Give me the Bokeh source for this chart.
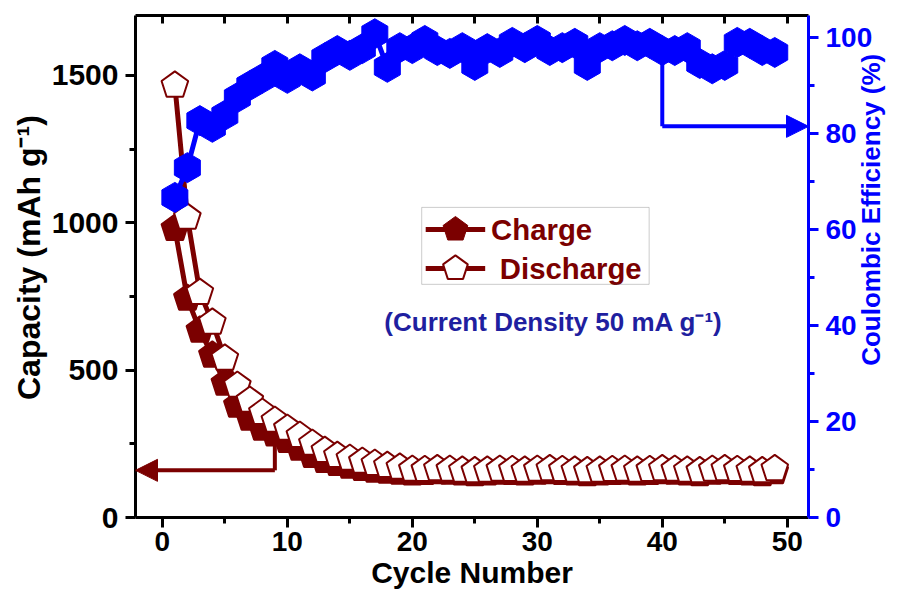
import numpy as np
from bokeh.plotting import figure
from bokeh.models import (Range1d, LinearAxis, FixedTicker, Arrow, NormalHead,
                          BoxAnnotation, ColumnDataSource)
from bokeh.core.properties import value
from bokeh.embed import file_html
from bokeh.resources import INLINE

# ---------------- data ----------------
cycles = list(range(1, 50))
charge = [980, 743, 635, 550, 455, 380, 336, 302, 283, 261,
          234, 210, 193, 183, 173, 166, 160, 156, 153, 150,
          152, 155, 153, 150, 148, 150, 153, 152, 150, 153,
          155, 152, 150, 148, 150, 152, 153, 150, 152, 155,
          153, 150, 148, 153, 155, 152, 150, 148, 155]
discharge = [1466, 1018, 763, 662, 540, 448, 397, 356, 329, 302,
             278, 251, 227, 210, 200, 190, 183, 176, 170, 163,
             162, 165, 163, 160, 158, 160, 163, 162, 160, 163,
             165, 162, 160, 158, 160, 162, 163, 160, 162, 165,
             163, 160, 158, 163, 165, 162, 160, 158, 165]
efficiency = [66.7, 72.9, 82.7, 81.3, 83.8, 87.5, 90.0, 91.5, 94.2, 91.5,
              93.5, 92.0, 95.8, 97.3, 96.3, 97.7, 100.8, 93.8, 97.9, 97.7,
              99.4, 97.3, 96.7, 97.9, 94.2, 97.7, 96.9, 99.0, 97.9, 99.4,
              97.3, 97.9, 98.8, 94.2, 97.9, 98.3, 99.4, 98.3, 98.8, 97.3,
              97.3, 97.9, 94.6, 93.5, 94.2, 99.0, 98.8, 97.3, 96.9]
x_ticks = [0, 10, 20, 30, 40, 50]
cap_ticks = [0, 500, 1000, 1500]
eff_ticks = [0, 20, 40, 60, 80, 100]

MAROON = "#7B0000"
BLUE = "#0000FF"
NAVY = "#1F1FA0"
FONT = "Liberation Sans"
NBSP = "\u00a0"

p = figure(width=904, height=595, output_backend="svg", toolbar_location=None,
           x_range=Range1d(-2.15, 51.7), y_range=Range1d(0, 1703),
           min_border_left=135, min_border_right=92, min_border_top=15,
           min_border_bottom=78)
p.extra_y_ranges = {"eff": Range1d(0, 104.6)}
p.outline_line_color = None
p.xgrid.visible = False
p.ygrid.visible = False


def style_axis(ax, color, label_size, tick_size):
    ax.axis_line_width = 3
    ax.axis_line_color = color
    ax.major_tick_line_width = 3
    ax.minor_tick_line_width = 3
    ax.major_tick_line_color = color
    ax.minor_tick_line_color = color
    ax.major_tick_out = 10
    ax.major_tick_in = 0
    ax.minor_tick_out = 6
    ax.minor_tick_in = 0
    ax.major_label_text_font = FONT
    ax.major_label_text_font_style = "bold"
    ax.major_label_text_font_size = tick_size
    ax.major_label_text_color = color
    ax.axis_label_text_font = FONT
    ax.axis_label_text_font_style = "bold"
    ax.axis_label_text_font_size = label_size
    ax.axis_label_text_color = color
    ax.major_label_standoff = 6
    ax.axis_label_standoff = 2


bx = p.xaxis[0]
bx.ticker = FixedTicker(ticks=x_ticks, minor_ticks=[t + 5 for t in x_ticks[:-1]])
bx.axis_label = "Cycle Number"
style_axis(bx, "black", "30px", "28px")
bx.major_label_standoff = 4

ly = p.yaxis[0]
ly.ticker = FixedTicker(ticks=cap_ticks, minor_ticks=[t + 250 for t in cap_ticks[:-1]])
ly.axis_label = NBSP * 2 + "Capacity (mAh g⁻¹)"
style_axis(ly, "black", "32px", "30px")
ly.major_label_standoff = 7

top = LinearAxis(ticker=FixedTicker(ticks=[t for t in range(0, 51, 5)], minor_ticks=[]))
top.axis_line_width = 3
top.major_tick_line_width = 3
top.major_tick_in = 8
top.major_tick_out = 0
top.minor_tick_line_color = None
top.major_label_text_color = None
top.major_label_text_font_size = "0px"
top.major_label_standoff = 0
p.add_layout(top, "above")

ry = LinearAxis(y_range_name="eff",
                ticker=FixedTicker(ticks=eff_ticks, minor_ticks=[t + 10 for t in eff_ticks[:-1]]),
                axis_label=NBSP * 21 + "Coulombic Efficiency (%)")
style_axis(ry, BLUE, "26px", "28px")
ry.major_label_standoff = 7
ry.axis_label_standoff = -4
rprops = ry.properties()
if "axis_label_orientation" in rprops:
    ry.axis_label_orientation = np.pi / 2
if "axis_label_align" in rprops:
    ry.axis_label_align = "start"
p.add_layout(ry, "right")

# ---------------- series ----------------
src = ColumnDataSource(dict(x=cycles, c=charge, d=discharge, e=efficiency))

p.line("x", "c", source=src, line_width=5, line_color=MAROON)
p.ngon(x="x", y="c", source=src, radius=14, radius_units="screen", n=5,
       angle=0, fill_color=MAROON, line_color=MAROON, line_width=2)
p.line("x", "d", source=src, line_width=5, line_color=MAROON)
p.ngon(x="x", y="d", source=src, radius=14, radius_units="screen", n=5,
       angle=0, fill_color="white", line_color=MAROON, line_width=2)

p.line("x", "e", source=src, y_range_name="eff", line_width=5, line_color=BLUE)
p.ngon(x="x", y="e", source=src, y_range_name="eff", radius=15, radius_units="screen",
       n=6, angle=0, fill_color=BLUE, line_color=BLUE)

# ---------------- arrows ----------------
p.line([9, 9], [charge[8], 160], line_width=4, line_color=MAROON)
p.add_layout(Arrow(end=NormalHead(size=22, fill_color=MAROON, line_color=MAROON),
                   x_start=9, y_start=160, x_end=-2.15, y_end=160,
                   line_color=MAROON, line_width=4))
p.line([40, 40], [efficiency[39], 81.5], y_range_name="eff", line_width=4, line_color=BLUE)
p.add_layout(Arrow(end=NormalHead(size=22, fill_color=BLUE, line_color=BLUE),
                   x_start=40, y_start=81.5, x_end=51.7, y_end=81.5,
                   y_range_name="eff", line_color=BLUE, line_width=4))

# ---------------- legend ----------------
p.add_layout(BoxAnnotation(left=20.75, right=38.95, bottom=791, top=1052,
                           fill_color=None, line_color="#555555", line_width=1))
p.line([21.07, 25.83], [977, 977], line_width=5, line_color=MAROON)
p.ngon(x=[23.45], y=[977], radius=13, radius_units="screen", n=5, angle=0,
       fill_color=MAROON, line_color=MAROON)
p.line([21.07, 25.83], [845, 845], line_width=5, line_color=MAROON)
p.ngon(x=[23.45], y=[845], radius=13, radius_units="screen", n=5, angle=0,
       fill_color="white", line_color=MAROON, line_width=2)
p.text(x=[26.3, 27.0], y=[977, 845], text=["Charge", "Discharge"],
       text_baseline="middle", text_align="left", text_font=value(FONT),
       text_font_style="bold", text_font_size="22pt", text_color=MAROON)

p.text(x=[31.3], y=[662], text=["(Current Density 50 mA g⁻¹)"],
       text_baseline="middle", text_align="center", text_font=value(FONT),
       text_font_style="bold", text_font_size="19.5pt", text_color=NAVY)

open("out.html", "w").write(file_html(p, INLINE))
